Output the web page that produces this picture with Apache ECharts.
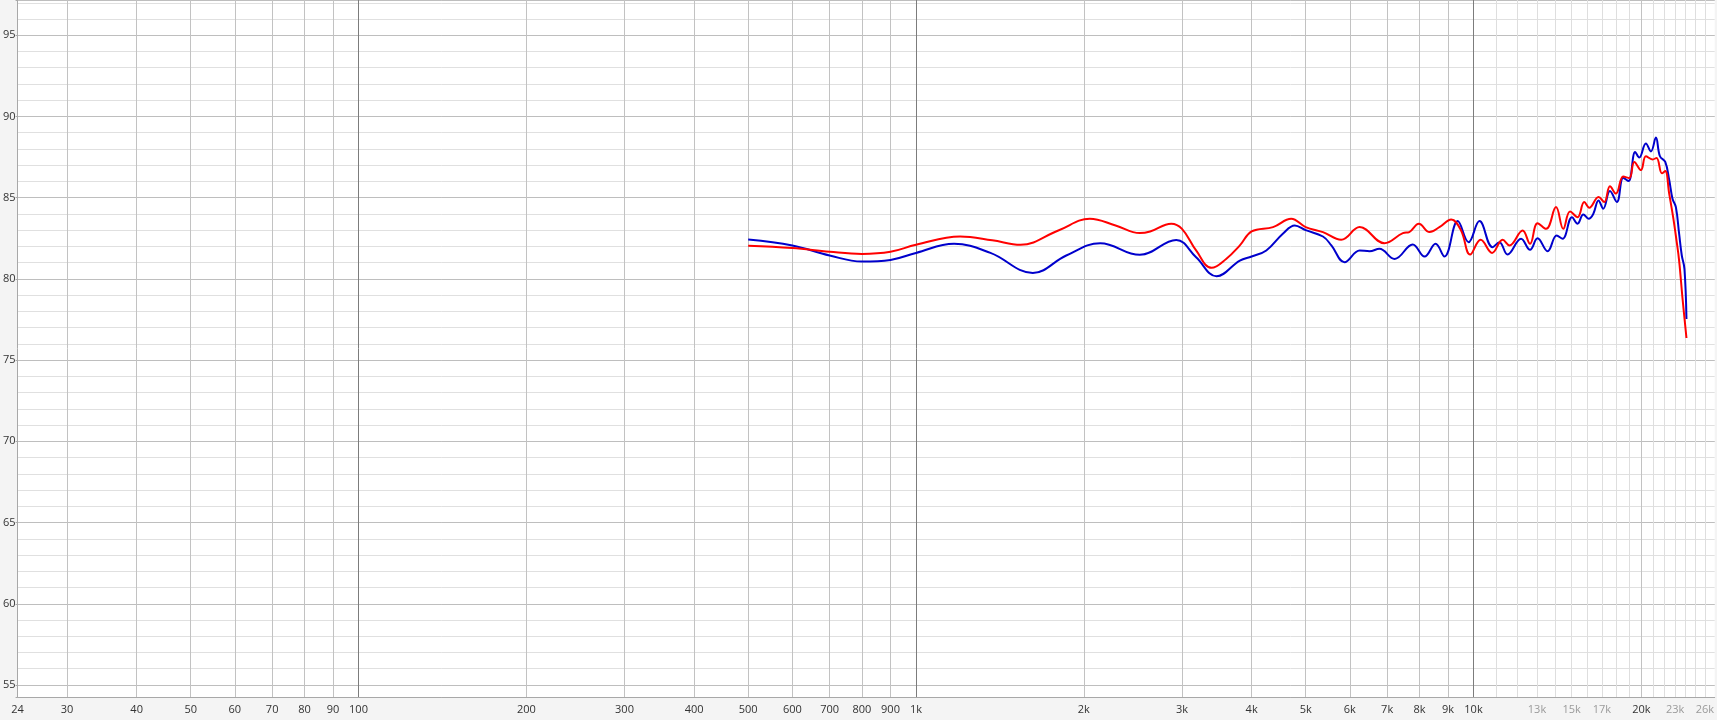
<!DOCTYPE html>
<html><head><meta charset="utf-8">
<script src="https://cdn.jsdelivr.net/npm/echarts@6/dist/echarts.min.js"></script>
<style>html,body{margin:0;padding:0;background:#f4f4f4;}#c{width:1717px;height:720px;}</style>
</head><body><div id="c"></div>
<script>
// ---- axis ranges ----
const freqMin = 24.46, freqMax = 27080;
const dbMin = 54.26, dbMax = 97.17;

// ---- tick labels / grid lines (Hz) ----
const tickFreqs = [24,30,40,50,60,70,80,90,100,200,300,400,500,600,700,800,900,1000,2000,3000,4000,5000,6000,7000,8000,9000,10000,13000,15000,17000,20000,23000,26000];
const fadedFreqs = [13000,15000,17000,23000,26000];
const decadeLines = [100,1000,10000];
const mainLines = [30,40,50,60,70,80,90,200,300,400,500,600,700,800,900,2000,3000,4000,5000,6000,7000,8000,9000,20000];
const fineLines = [11000,12000,13000,14000,15000,16000,17000,18000,19000,21000,22000,23000,24000,25000,26000];

// ---- red series ----
const redFreq = [500,600,700,800,900,1000,1200,1370,1540,1800,2050,2280,2520,2630,2870,3000,3180,3390,3600,3810,4000,4370,4710,5000,5370,5790,6250,6920,7470,7670,7980,8340,8700,9120,9500,9860,10300,10800,11280,11600,12250,12630,13030,13500,14060,14490,14900,15370,15800,16130,16760,17160,17570,18010,18560,19030,19430,19970,20380,20950,21300,21780,22080,22440,22810,23130,23380,23700,24100];
const redDb = [82.04,81.90,81.67,81.54,81.67,82.10,82.61,82.38,82.10,82.98,83.70,83.29,82.82,82.92,83.40,83.08,81.75,80.68,81.23,82.06,82.92,83.19,83.70,83.19,82.88,82.41,83.19,82.20,82.82,82.88,83.39,82.88,83.20,83.66,82.98,81.50,82.41,81.60,82.41,82.06,82.98,82.16,83.43,83.08,84.42,83.08,84.15,83.80,84.73,84.38,85.04,84.73,85.70,85.25,86.30,86.20,87.20,86.70,87.55,87.35,87.45,86.50,86.65,85.25,83.80,82.36,81.13,78.87,76.36];

// ---- blue series ----
const blueFreq = [500,600,700,800,900,1000,1170,1360,1620,1860,2140,2520,2930,3180,3460,3810,4000,4250,4550,4780,5000,5370,5560,5870,6250,6510,6780,7220,7780,8170,8550,8870,9370,9800,10250,10820,11130,11510,12170,12630,13030,13580,14100,14450,15020,15370,15740,16090,16400,16760,17090,17570,18080,18560,18970,19500,19830,20380,20810,21240,21600,22080,22440,22750,23070,23380,23640,23900,24100];
const blueDb = [82.43,82.06,81.44,81.07,81.17,81.60,82.16,81.60,80.37,81.44,82.20,81.48,82.40,81.33,80.16,81.13,81.38,81.75,82.78,83.29,83.00,82.61,82.06,81.03,81.75,81.70,81.85,81.23,82.12,81.38,82.16,81.38,83.56,82.26,83.56,81.95,82.26,81.50,82.47,81.79,82.50,81.70,82.67,82.47,83.80,83.40,83.97,83.70,84.00,84.83,84.32,85.41,84.73,86.23,86.02,87.81,87.47,88.33,87.85,88.70,87.55,87.20,86.10,84.94,84.42,82.78,81.44,80.62,77.53];

const L = Math.log10;
const xMin = L(freqMin), xMax = L(freqMax);
const FONT = 'Open Sans';

function fmtFreq(f){ return f >= 1000 ? (f/1000) + 'k' : String(f); }
function nearestFreq(v){
  let best = tickFreqs[0], bd = 1e9;
  tickFreqs.forEach(f => { const d = Math.abs(L(f) - v); if (d < bd){ bd = d; best = f; } });
  return best;
}
function xAx(extra){
  return Object.assign({
    type:'value', min:xMin, max:xMax, gridIndex:0, position:'bottom', offset:0,
    axisLine:{show:false}, axisTick:{show:false}, axisLabel:{show:false}, splitLine:{show:false}
  }, extra);
}
function linesAxis(list, color){
  const vals = list.map(L);
  return xAx({
    axisTick:{show:false, customValues: vals},
    axisLabel:{show:false, customValues: vals},
    splitLine:{show:true, lineStyle:{color:color, width:1}}
  });
}

const labelVals = tickFreqs.map(f => Math.max(L(f), xMin + 1e-9));

const chart = echarts.init(document.getElementById('c'), null, {renderer:'canvas'});
chart.setOption({
  animation:false,
  backgroundColor:'#f4f4f4',
  grid:{left:15, right:0, top:0, bottom:23, show:true, backgroundColor:'#ffffff', borderWidth:0, containLabel:false},
  xAxis:[
    linesAxis(fineLines, '#dedede'),
    linesAxis(mainLines, '#c2c2c2'),
    linesAxis(decadeLines, '#7c7c7c'),
    xAx({
      axisLine:{show:true, lineStyle:{color:'#a8a8a8'}},
      axisTick:{show:false, customValues: labelVals},
      axisLabel:{
        show:true, customValues: labelVals, margin:7, hideOverlap:false,
        fontFamily:FONT, fontSize:11,
        formatter: v => {
          const f = nearestFreq(v);
          return (fadedFreqs.indexOf(f) >= 0 ? '{g|' : '{d|') + fmtFreq(f) + '}';
        },
        rich:{
          d:{color:'#333333', fontFamily:FONT, fontSize:11},
          g:{color:'#9a9a9a', fontFamily:FONT, fontSize:11}
        }
      }
    })
  ],
  yAxis:[
    {
      type:'value', position:'left', offset:0, min:dbMin, max:dbMax, minInterval:1, maxInterval:1, splitNumber:43,
      axisLine:{show:false}, axisTick:{show:false}, axisLabel:{show:false},
      splitLine:{show:true, lineStyle:{color:'#e0e0e0'}}
    },
    {
      type:'value', position:'left', offset:0, min:dbMin, max:dbMax, minInterval:5, maxInterval:5, splitNumber:8,
      axisLine:{show:true, lineStyle:{color:'#a8a8a8'}},
      axisTick:{show:true, length:2, lineStyle:{color:'#a8a8a8'}},
      axisLabel:{
        show:true, margin:2, fontFamily:FONT, fontSize:11, color:'#333333',
        formatter: v => {
          const r = Math.round(v);
          return (Math.abs(v - r) < 1e-6 && r % 5 === 0) ? String(r) : '';
        }
      },
      splitLine:{show:true, lineStyle:{color:'#bebebe'}}
    }
  ],
  series:[
    {
      type:'line', name:'blue', xAxisIndex:3, yAxisIndex:1, z:5,
      data: blueFreq.map((f,i) => [L(f), blueDb[i]]),
      showSymbol:false, symbol:'none', smooth:0.4,
      lineStyle:{color:'#0000cc', width:2}
    },
    {
      type:'line', name:'red', xAxisIndex:3, yAxisIndex:1, z:6,
      data: redFreq.map((f,i) => [L(f), redDb[i]]),
      showSymbol:false, symbol:'none', smooth:0.4,
      lineStyle:{color:'#ff0000', width:2}
    }
  ]
});
</script></body></html>
